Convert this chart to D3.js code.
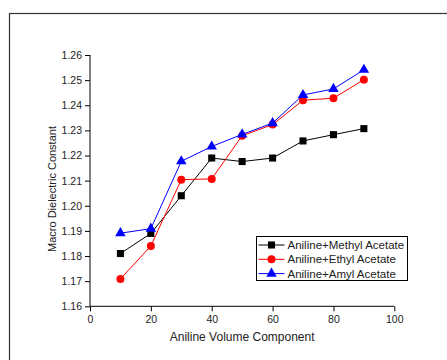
<!DOCTYPE html>
<html>
<head>
<meta charset="utf-8">
<script src="https://cdn.jsdelivr.net/npm/d3@7"></script>
<style>
  body { margin: 0; background: #fff; }
  svg { display: block; }
</style>
</head>
<body>
<div id="chart"></div>
<script>
// chart data
const volumes = [10, 20, 30, 40, 50, 60, 70, 80, 90];
const methylValues = [1.1810, 1.1890, 1.2040, 1.2190, 1.2176, 1.2190, 1.2258, 1.2283, 1.2307];
const ethylValues = [1.1709, 1.1840, 1.2104, 1.2107, 1.2279, 1.2323, 1.2420, 1.2428, 1.2502];
const amylValues = [1.1891, 1.1909, 1.2177, 1.2236, 1.2284, 1.2329, 1.2441, 1.2465, 1.2541];
const seriesNames = ['Aniline+Methyl Acetate', 'Aniline+Ethyl Acetate', 'Aniline+Amyl Acetate'];
const xTicks = [0, 20, 40, 60, 80, 100];
const yTicks = [1.16, 1.17, 1.18, 1.19, 1.20, 1.21, 1.22, 1.23, 1.24, 1.25, 1.26];

const outerWidth = 447;
const outerHeight = 360;
const font = 'Arial, "Liberation Sans", sans-serif';

const svg = d3.select('#chart')
  .append('svg')
  .attr('width', outerWidth)
  .attr('height', outerHeight);

// page frame, clipped by the window on the right and bottom
svg.append('rect')
  .attr('x', 9.5)
  .attr('y', 13.5)
  .attr('width', 460)
  .attr('height', 360)
  .attr('fill', 'none')
  .attr('stroke', '#333')
  .attr('stroke-width', 1.2);

const x = d3.scaleLinear().domain([0, 100]).range([90, 394.3]);
const y = d3.scaleLinear().domain([1.16, 1.26]).range([306.3, 55]);

// x axis
const xAxis = svg.append('g').attr('transform', `translate(0, ${y(1.16)})`);
xAxis.call(d3.axisBottom(x).tickValues(d3.range(0, 101, 10)).tickSize(3).tickFormat(''))
  .call(g => g.select('.domain').remove());
xAxis.call(d3.axisBottom(x).tickValues(xTicks).tickSize(5).tickPadding(4).tickFormat(d3.format('d')));
xAxis.selectAll('text').attr('font-family', font).attr('font-size', 10.5).attr('fill', '#222');
xAxis.selectAll('path, line').attr('stroke', '#000').attr('stroke-width', 1);
xAxis.select('.domain').attr('d', `M${x(0)},0H${x(100)}`);

// y axis
const yAxis = svg.append('g').attr('transform', `translate(${x(0)}, 0)`);
yAxis.call(d3.axisLeft(y).tickValues(d3.range(0, 21).map(i => 1.16 + i * 0.005)).tickSize(3).tickFormat(''))
  .call(g => g.select('.domain').remove());
yAxis.call(d3.axisLeft(y).tickValues(yTicks).tickSize(5).tickPadding(3).tickFormat(d3.format('.2f')));
yAxis.selectAll('text').attr('font-family', font).attr('font-size', 10.5).attr('fill', '#222');
yAxis.selectAll('path, line').attr('stroke', '#000').attr('stroke-width', 1);
yAxis.select('.domain').attr('d', `M0,${y(1.16)}V${y(1.26)}`);

// axis titles
svg.append('text')
  .attr('x', (x(0) + x(100)) / 2)
  .attr('y', 341)
  .attr('text-anchor', 'middle')
  .attr('font-family', font)
  .attr('font-size', 12)
  .attr('fill', '#222')
  .text('Aniline Volume Component');

svg.append('text')
  .attr('transform', 'translate(55.5, 189) rotate(-90)')
  .attr('text-anchor', 'middle')
  .attr('font-family', font)
  .attr('font-size', 11)
  .attr('fill', '#222')
  .text('Macro Dielectric Constant');

const series = [
  { name: seriesNames[0], values: methylValues, color: '#000000', symbol: d3.symbolSquare, size: 50 },
  { name: seriesNames[1], values: ethylValues, color: '#ff0000', symbol: d3.symbolCircle, size: 50 },
  { name: seriesNames[2], values: amylValues, color: '#0000ff', symbol: d3.symbolTriangle, size: 48 }
];

const line = d3.line()
  .x(d => x(d[0]))
  .y(d => y(d[1]));

series.forEach(s => {
  const pts = volumes.map((v, i) => [v, s.values[i]]);
  svg.append('path')
    .datum(pts)
    .attr('d', line)
    .attr('fill', 'none')
    .attr('stroke', s.color)
    .attr('stroke-width', 1);
  svg.append('g')
    .selectAll('path')
    .data(pts)
    .enter()
    .append('path')
      .attr('transform', d => `translate(${x(d[0])}, ${y(d[1])})`)
      .attr('d', d3.symbol().type(s.symbol).size(s.size))
      .attr('fill', s.color);
});

// legend
const legend = svg.append('g').attr('transform', 'translate(256.5, 236.5)');
legend.append('rect')
  .attr('width', 151)
  .attr('height', 44)
  .attr('fill', '#fff')
  .attr('stroke', '#000')
  .attr('stroke-width', 1);

series.forEach((s, i) => {
  const ly = 8.5 + i * 14.3;
  legend.append('line')
    .attr('x1', 2)
    .attr('x2', 28)
    .attr('y1', ly)
    .attr('y2', ly)
    .attr('stroke', s.color)
    .attr('stroke-width', 1);
  legend.append('path')
    .attr('transform', `translate(15, ${ly})`)
    .attr('d', d3.symbol().type(s.symbol).size(s.size))
    .attr('fill', s.color);
  legend.append('text')
    .attr('x', 31)
    .attr('y', ly)
    .attr('dy', '0.35em')
    .attr('font-family', font)
    .attr('font-size', 11.5)
    .attr('fill', '#222')
    .text(s.name);
});
</script>
</body>
</html>
